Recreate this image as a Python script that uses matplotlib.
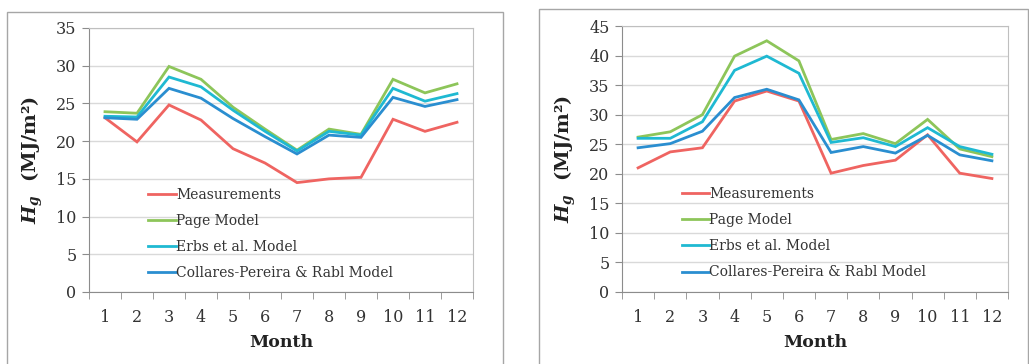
import matplotlib
matplotlib.use("Agg")
import matplotlib.pyplot as plt
from matplotlib.patches import Rectangle

months = list(range(1, 13))
series_names = ["Measurements", "Page Model", "Erbs et al. Model", "Collares-Pereira & Rabl Model"]

left_meas = [23.1, 19.9, 24.8, 22.8, 19.0, 17.1, 14.5, 15.0, 15.2, 22.9, 21.3, 22.5]
left_page = [23.9, 23.7, 29.9, 28.2, 24.5, 21.6, 18.8, 21.6, 20.9, 28.2, 26.4, 27.6]
left_erbs = [23.3, 23.2, 28.5, 27.2, 24.1, 21.3, 18.7, 21.3, 20.8, 27.0, 25.3, 26.3]
left_cpr = [23.1, 22.9, 27.0, 25.7, 23.0, 20.6, 18.3, 20.8, 20.5, 25.8, 24.6, 25.5]

right_meas = [21.0, 23.7, 24.4, 32.3, 34.0, 32.3, 20.1, 21.4, 22.3, 26.6, 20.1, 19.2]
right_page = [26.2, 27.1, 30.0, 39.9, 42.5, 39.1, 25.8, 26.8, 25.1, 29.2, 24.2, 22.9]
right_erbs = [26.0, 26.0, 28.8, 37.5, 39.9, 37.0, 25.3, 26.1, 24.6, 27.8, 24.6, 23.3]
right_cpr = [24.4, 25.1, 27.2, 32.9, 34.3, 32.5, 23.6, 24.6, 23.5, 26.5, 23.2, 22.2]

colors = ["#ef6461", "#8dc55a", "#1fb9d2", "#2a8ed0"]

plt.rcParams["font.family"] = "DejaVu Serif"
plt.rcParams["mathtext.fontset"] = "custom"
plt.rcParams["mathtext.it"] = "DejaVu Serif:italic:bold"
plt.rcParams["mathtext.rm"] = "DejaVu Serif:bold"

fig = plt.figure(figsize=(10.29, 3.64), dpi=100)
W, H = 1029, 364

# outer boxes
fig.patches.append(Rectangle((7 / W, -0.05), 496 / W, 1 - 12 / H + 0.05,
                             transform=fig.transFigure, fill=False, edgecolor="#a6a6a6", lw=1))
fig.patches.append(Rectangle((539 / W, -0.05), 489 / W, 1 - 9 / H + 0.05,
                             transform=fig.transFigure, fill=False, edgecolor="#a6a6a6", lw=1))


def panel(rect, data, ymax, ystep):
    ax = fig.add_axes(rect)
    for vals, c, name in zip(data, colors, series_names):
        ax.plot(months, vals, color=c, lw=2.0, label=name, solid_joinstyle="miter")
    ax.set_xlim(0.5, 12.5)
    ax.set_ylim(0, ymax)
    ax.set_yticks(range(0, ymax + 1, ystep))
    ax.set_xticks(months)
    ax.set_xticks([m + 0.5 for m in range(0, 13)], minor=True)
    ax.tick_params(axis="x", which="major", length=0, pad=12, labelsize=11.5, colors="#333333")
    ax.tick_params(axis="x", which="minor", length=5, direction="out", color="#8c8c8c")
    ax.tick_params(axis="y", length=5, direction="out", color="#8c8c8c", labelsize=11.5,
                   labelcolor="#333333", pad=4)
    ax.grid(axis="y", color="#d9d9d9", lw=1)
    ax.set_axisbelow(True)
    for s in ["top", "right"]:
        ax.spines[s].set_color("#bfbfbf")
    for s in ["left", "bottom"]:
        ax.spines[s].set_color("#8c8c8c")
    ax.set_xlabel("Month", fontsize=12.5, fontweight="bold", labelpad=6, color="#222222")
    ax.set_ylabel(r"$H_g$" + "  (MJ/m²)", fontsize=14, fontweight="bold", labelpad=8, color="#222222")
    leg = ax.legend(loc="upper left", bbox_to_anchor=(0.14, 0.415), frameon=False,
                    handlelength=2.0, handletextpad=0.0, labelspacing=0.87, fontsize=10,
                    borderaxespad=0)
    for t in leg.get_texts():
        t.set_color("#333333")
    return ax


panel([89 / W, 72 / H, 384 / W, 264 / H], [left_meas, left_page, left_erbs, left_cpr], 35, 5)
panel([622 / W, 72 / H, 386 / W, 266 / H], [right_meas, right_page, right_erbs, right_cpr], 45, 5)

fig.savefig("out.png", dpi=100)
